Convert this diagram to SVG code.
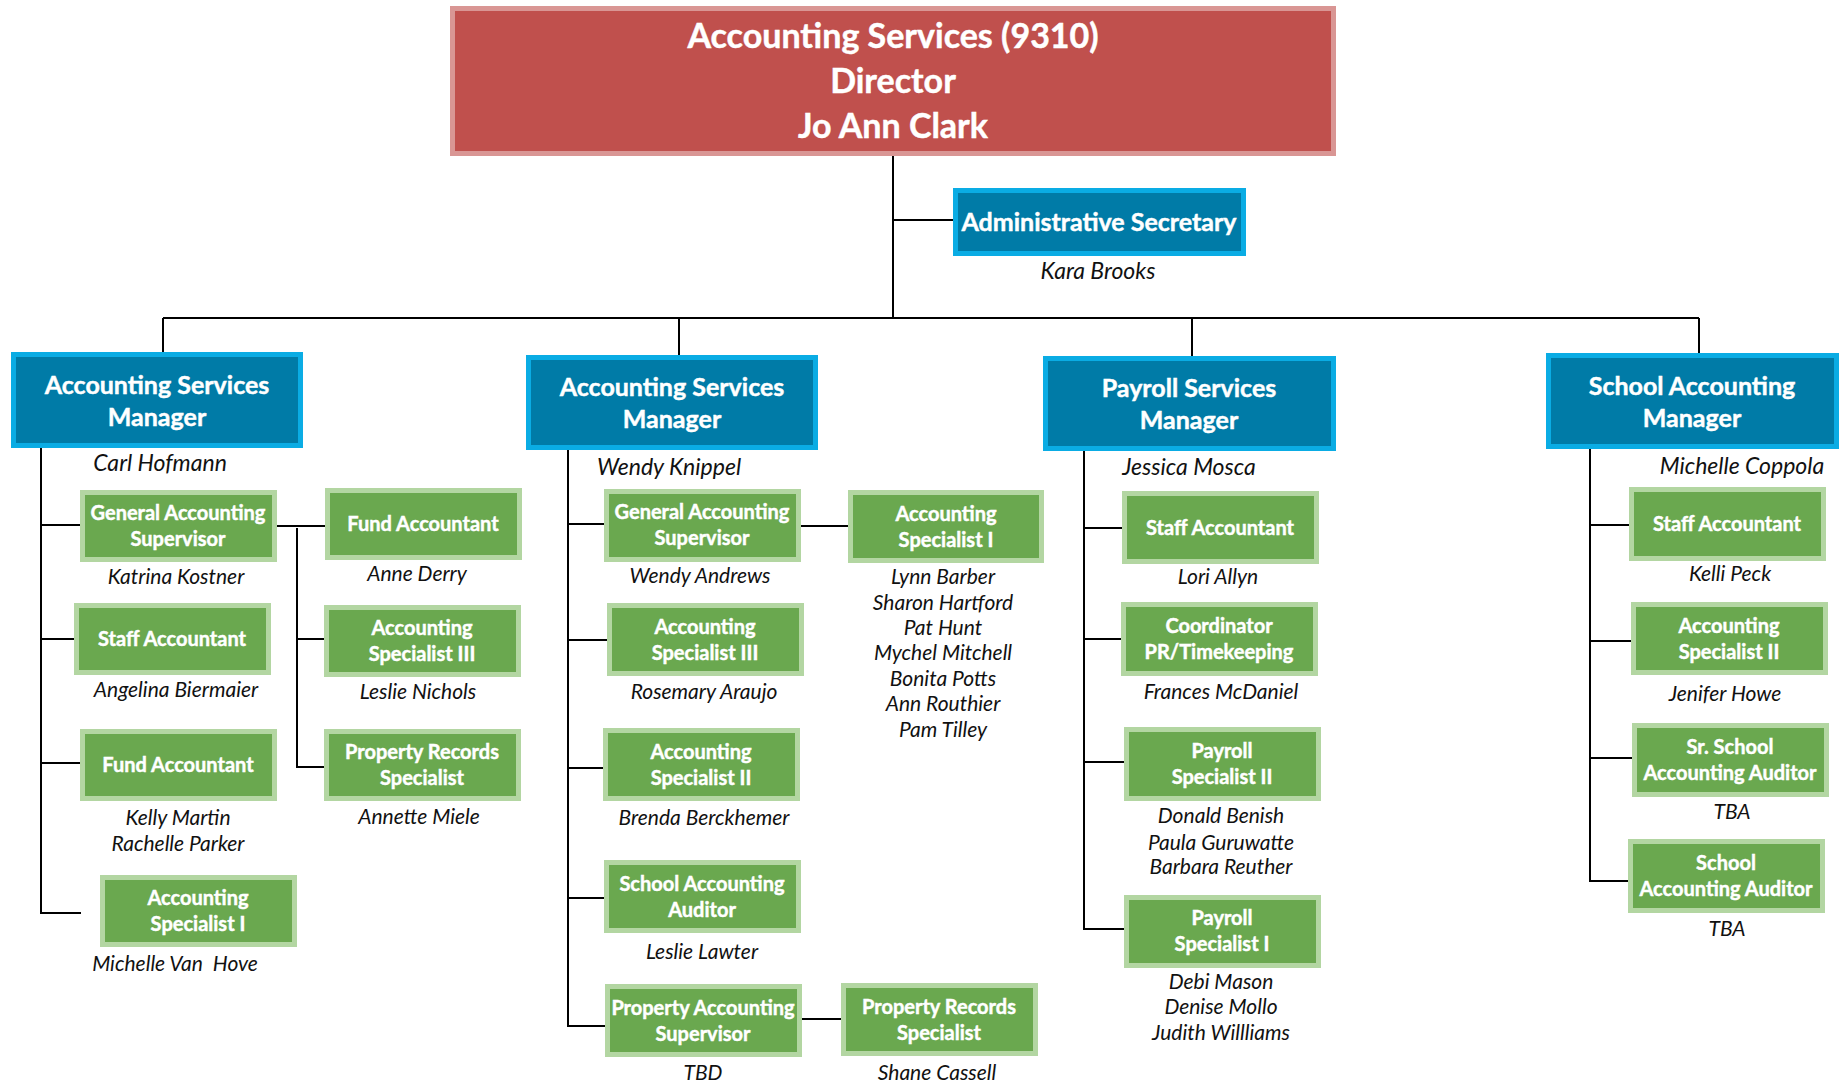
<svg xmlns="http://www.w3.org/2000/svg" width="1841" height="1084" viewBox="0 0 1841 1084">
<style>
.rb{fill:#C0504D;stroke:#D99694;stroke-width:5}
.bb{fill:#007BA7;stroke:#0AACE4;stroke-width:5}
.gb{fill:#6AA84F;stroke:#B3D6A2;stroke-width:5}
.t{font-family:Lato,'Open Sans',sans-serif;font-weight:bold;fill:#fff;stroke:#fff;stroke-width:0.45;text-anchor:middle}
.top{font-size:34px}
.mt{font-size:25px}
.gt{font-size:20px}
.n{font-family:Lato,'Open Sans',sans-serif;font-style:italic;font-size:21px;fill:#111;text-anchor:middle;white-space:pre}
.mn{font-size:23px}
.c{fill:none;stroke:#000;stroke-width:2}
</style>
<rect width="1841" height="1084" fill="#fff"/>
<g id="connectors">
<path class="c" d="M893 156V318M893 220H953M163 318H1699M163 318V352M679 318V355M1192 318V356M1699 318V353"/>
<path class="c" d="M41 448V913H81M41 525H80M41 639H74M41 763H80"/>
<path class="c" d="M277 526H325M297 528V767H324M297 639H324"/>
<path class="c" d="M568 450V1026H605M568 524H604M568 640H607M568 768H603M568 898H604M801 526H848M802 1019H841"/>
<path class="c" d="M1084 451V929H1124M1084 528H1122M1084 639H1121M1084 762H1124"/>
<path class="c" d="M1590 449V881H1628M1590 525H1629M1590 641H1631M1590 758H1632"/>
</g>
<g id="director">
<rect class="rb" x="452.5" y="8.5" width="881" height="145"/>
<text class="t top" x="893" y="48">Accounting Services (9310)</text>
<text class="t top" x="893" y="93">Director</text>
<text class="t top" x="893" y="138">Jo Ann Clark</text>
</g>
<g id="admin-secretary">
<rect class="bb" x="955.5" y="190.5" width="288" height="63"/>
<text class="t mt" x="1099" y="231">Administrative Secretary</text>
<text class="n mn" x="1098" y="279">Kara Brooks</text>
</g>
<g id="mgr-acct-1">
<rect class="bb" x="13.5" y="354.5" width="287" height="91"/>
<text class="t mt" x="157" y="394">Accounting Services</text>
<text class="t mt" x="157" y="426">Manager</text>
<text class="n mn" x="160" y="471">Carl Hofmann</text>
</g>
<g id="mgr-acct-2">
<rect class="bb" x="528.5" y="357.5" width="287" height="90"/>
<text class="t mt" x="672" y="396">Accounting Services</text>
<text class="t mt" x="672" y="428">Manager</text>
<text class="n mn" x="669" y="475">Wendy Knippel</text>
</g>
<g id="mgr-payroll">
<rect class="bb" x="1045.5" y="358.5" width="288" height="90"/>
<text class="t mt" x="1189" y="397">Payroll Services</text>
<text class="t mt" x="1189" y="429">Manager</text>
<text class="n mn" x="1189" y="475">Jessica Mosca</text>
</g>
<g id="mgr-school">
<rect class="bb" x="1548.5" y="355.5" width="288" height="91"/>
<text class="t mt" x="1692" y="395">School Accounting</text>
<text class="t mt" x="1692" y="427">Manager</text>
<text class="n mn" x="1742" y="474">Michelle Coppola</text>
</g>
<g id="c1-gas">
<rect class="gb" x="82.5" y="492.5" width="192" height="67"/>
<text class="t gt" x="178" y="520">General Accounting</text>
<text class="t gt" x="178" y="546">Supervisor</text>
<text class="n" x="176" y="584">Katrina Kostner</text>
</g>
<g id="c1-staff">
<rect class="gb" x="76.5" y="605.5" width="192" height="67"/>
<text class="t gt" x="172" y="646">Staff Accountant</text>
<text class="n" x="176" y="697">Angelina Biermaier</text>
</g>
<g id="c1-fund">
<rect class="gb" x="82.5" y="731.5" width="192" height="67"/>
<text class="t gt" x="178" y="772">Fund Accountant</text>
<text class="n" x="178" y="825">Kelly Martin</text>
<text class="n" x="178" y="851">Rachelle Parker</text>
</g>
<g id="c1-spec1">
<rect class="gb" x="102.5" y="877.5" width="192" height="67"/>
<text class="t gt" x="198" y="905">Accounting</text>
<text class="t gt" x="198" y="931">Specialist I</text>
<text class="n" x="175" y="971">Michelle Van  Hove</text>
</g>
<g id="c1-fund2">
<rect class="gb" x="327.5" y="490.5" width="192" height="67"/>
<text class="t gt" x="423" y="531">Fund Accountant</text>
<text class="n" x="417" y="581">Anne Derry</text>
</g>
<g id="c1-spec3">
<rect class="gb" x="326.5" y="607.5" width="192" height="67"/>
<text class="t gt" x="422" y="635">Accounting</text>
<text class="t gt" x="422" y="661">Specialist III</text>
<text class="n" x="418" y="699">Leslie Nichols</text>
</g>
<g id="c1-prop">
<rect class="gb" x="326.5" y="731.5" width="192" height="67"/>
<text class="t gt" x="422" y="759">Property Records</text>
<text class="t gt" x="422" y="785">Specialist</text>
<text class="n" x="419" y="824">Annette Miele</text>
</g>
<g id="c2-gas">
<rect class="gb" x="606.5" y="491.5" width="192" height="68"/>
<text class="t gt" x="702" y="519">General Accounting</text>
<text class="t gt" x="702" y="545">Supervisor</text>
<text class="n" x="700" y="583">Wendy Andrews</text>
</g>
<g id="c2-spec3">
<rect class="gb" x="609.5" y="605.5" width="192" height="68"/>
<text class="t gt" x="705" y="634">Accounting</text>
<text class="t gt" x="705" y="660">Specialist III</text>
<text class="n" x="704" y="699">Rosemary Araujo</text>
</g>
<g id="c2-spec2">
<rect class="gb" x="605.5" y="730.5" width="192" height="68"/>
<text class="t gt" x="701" y="759">Accounting</text>
<text class="t gt" x="701" y="785">Specialist II</text>
<text class="n" x="704" y="825">Brenda Berckhemer</text>
</g>
<g id="c2-auditor">
<rect class="gb" x="606.5" y="862.5" width="192" height="68"/>
<text class="t gt" x="702" y="891">School Accounting</text>
<text class="t gt" x="702" y="917">Auditor</text>
<text class="n" x="702" y="959">Leslie Lawter</text>
</g>
<g id="c2-propsup">
<rect class="gb" x="607.5" y="986.5" width="192" height="68"/>
<text class="t gt" x="703" y="1015">Property Accounting</text>
<text class="t gt" x="703" y="1041">Supervisor</text>
<text class="n" x="703" y="1080">TBD</text>
</g>
<g id="c2-proprec">
<rect class="gb" x="843.5" y="985.5" width="192" height="68"/>
<text class="t gt" x="939" y="1014">Property Records</text>
<text class="t gt" x="939" y="1040">Specialist</text>
<text class="n" x="937" y="1080">Shane Cassell</text>
</g>
<g id="c2-spec1">
<rect class="gb" x="850.5" y="492.5" width="191" height="68"/>
<text class="t gt" x="946" y="521">Accounting</text>
<text class="t gt" x="946" y="547">Specialist I</text>
<text class="n" x="943" y="584">Lynn Barber</text>
<text class="n" x="943" y="610">Sharon Hartford</text>
<text class="n" x="943" y="635">Pat Hunt</text>
<text class="n" x="943" y="660">Mychel Mitchell</text>
<text class="n" x="943" y="686">Bonita Potts</text>
<text class="n" x="943" y="711">Ann Routhier</text>
<text class="n" x="943" y="737">Pam Tilley</text>
</g>
<g id="c3-staff">
<rect class="gb" x="1124.5" y="493.5" width="192" height="68"/>
<text class="t gt" x="1220" y="535">Staff Accountant</text>
<text class="n" x="1218" y="584">Lori Allyn</text>
</g>
<g id="c3-coord">
<rect class="gb" x="1123.5" y="604.5" width="192" height="69"/>
<text class="t gt" x="1219" y="633">Coordinator</text>
<text class="t gt" x="1219" y="659">PR/Timekeeping</text>
<text class="n" x="1221" y="699">Frances McDaniel</text>
</g>
<g id="c3-pay2">
<rect class="gb" x="1126.5" y="729.5" width="192" height="69"/>
<text class="t gt" x="1222" y="758">Payroll</text>
<text class="t gt" x="1222" y="784">Specialist II</text>
<text class="n" x="1221" y="823">Donald Benish</text>
<text class="n" x="1221" y="850">Paula Guruwatte</text>
<text class="n" x="1221" y="874">Barbara Reuther</text>
</g>
<g id="c3-pay1">
<rect class="gb" x="1126.5" y="897.5" width="192" height="68"/>
<text class="t gt" x="1222" y="925">Payroll</text>
<text class="t gt" x="1222" y="951">Specialist I</text>
<text class="n" x="1221" y="989">Debi Mason</text>
<text class="n" x="1221" y="1014">Denise Mollo</text>
<text class="n" x="1221" y="1040">Judith Willliams</text>
</g>
<g id="c4-staff">
<rect class="gb" x="1631.5" y="489.5" width="192" height="69"/>
<text class="t gt" x="1727" y="531">Staff Accountant</text>
<text class="n" x="1730" y="581">Kelli Peck</text>
</g>
<g id="c4-spec2">
<rect class="gb" x="1633.5" y="604.5" width="192" height="68"/>
<text class="t gt" x="1729" y="633">Accounting</text>
<text class="t gt" x="1729" y="659">Specialist II</text>
<text class="n" x="1725" y="701">Jenifer Howe</text>
</g>
<g id="c4-sraud">
<rect class="gb" x="1634.5" y="725.5" width="192" height="69"/>
<text class="t gt" x="1730" y="754">Sr. School</text>
<text class="t gt" x="1730" y="780">Accounting Auditor</text>
<text class="n" x="1732" y="819">TBA</text>
</g>
<g id="c4-aud">
<rect class="gb" x="1630.5" y="841.5" width="192" height="69"/>
<text class="t gt" x="1726" y="870">School</text>
<text class="t gt" x="1726" y="896">Accounting Auditor</text>
<text class="n" x="1727" y="936">TBA</text>
</g>
</svg>
